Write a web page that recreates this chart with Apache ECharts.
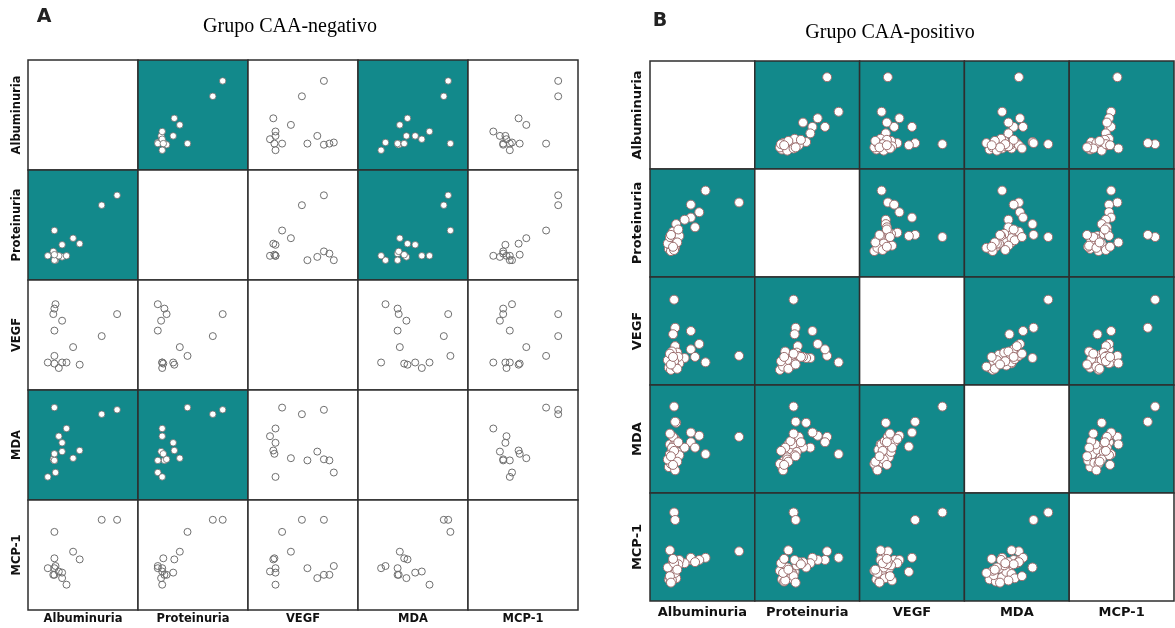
<!DOCTYPE html>
<html>
<head>
<meta charset="utf-8">
<script src="https://cdn.jsdelivr.net/npm/echarts@6/dist/echarts.min.js"></script>
<style>
  html, body { margin: 0; padding: 0; background: #ffffff; }
  #chart { width: 1175px; height: 628px; }
</style>
</head>
<body>
<div id="chart"></div>
<script>
// Variable names, in matrix order
const variables = ['Albuminuria', 'Proteinuria', 'VEGF', 'MDA', 'MCP-1'];

// Grupo CAA-negativo: one value per patient, relative units (0–100 of each axis range)
const negAlbuminuria = [81, 67, 24, 41, 47, 31, 25, 24, 23, 31, 24, 28, 35, 24, 18];
const negProteinuria = [77, 68, 45, 38, 33, 32, 18, 24, 26, 21, 18, 22, 22, 23, 22];
const negVEGF        = [69, 49, 31, 39, 23, 25, 78, 74, 69, 63, 54, 20, 25, 24, 25];
const negMDA         = [82, 78, 84, 38, 45, 52, 25, 36, 37, 44, 36, 58, 65, 42, 21];
const negMCP1        = [82, 82, 71, 53, 46, 34, 40, 32, 32, 29, 38, 35, 23, 47, 38];

// Grupo CAA-positivo: one value per patient, relative units
const posAlbuminuria = [85, 53, 39, 47, 39, 33, 25, 43, 23, 24, 19, 22, 24,
                        18, 20, 22, 19, 21, 24, 23, 26, 20, 25, 22, 28, 21, 17, 24, 27, 19, 23, 26, 20, 22];
const posProteinuria = [69, 80, 67, 60, 55, 53, 49, 46, 37, 39, 32, 38, 41,
                        26, 28, 30, 33, 35, 31, 36, 40, 24, 34, 42, 38, 29, 31, 27, 44, 37, 25, 32, 39, 28];
const posVEGF        = [27, 21, 33, 38, 50, 25, 25, 26, 79, 53, 20, 47, 36,
                        16, 19, 22, 25, 18, 28, 21, 30, 14, 24, 27, 20, 31, 23, 17, 26, 29, 22, 15, 19, 26];
const posMDA         = [52, 36, 47, 53, 56, 42, 65, 42, 80, 66, 45, 43, 50,
                        24, 30, 28, 36, 40, 33, 45, 38, 27, 48, 52, 35, 42, 31, 21, 47, 55, 39, 29, 34, 26];
const posMCP1        = [46, 40, 38, 38, 40, 35, 31, 36, 82, 75, 47, 27, 35,
                        20, 18, 24, 22, 27, 30, 25, 33, 28, 21, 36, 38, 19, 31, 26, 34, 23, 35, 29, 17, 39];

// Cells with a shaded background (row, column), symmetric
const negShaded = [[0, 1], [1, 0], [0, 3], [3, 0], [1, 3], [3, 1]];

const TEAL = '#12898b';
const LINE = '#2e2e2e';
const LABEL_FONT = 'bold 12px "DejaVu Sans", sans-serif';

const panels = [
  {
    letter: 'A', title: 'Grupo CAA-negativo',
    left: 28, top: 60, cellW: 110, cellH: 110,
    letterPos: [44, 17], titlePos: [290, 27],
    rowLabelX: 17, colLabelY: 619, font: 'bold 11.5px "DejaVu Sans", sans-serif',
    vars: [negAlbuminuria, negProteinuria, negVEGF, negMDA, negMCP1],
    shaded: (r, c) => negShaded.some(([a, b]) => a === r && b === c)
  },
  {
    letter: 'B', title: 'Grupo CAA-positivo',
    left: 650, top: 61, cellW: 104.8, cellH: 108,
    letterPos: [660, 21], titlePos: [890, 33],
    rowLabelX: 638, colLabelY: 613, font: 'bold 13px "DejaVu Sans", sans-serif',
    vars: [posAlbuminuria, posProteinuria, posVEGF, posMDA, posMCP1],
    shaded: (r, c) => r !== c
  }
];

const grid = [], xAxis = [], yAxis = [], series = [], graphic = [];

panels.forEach((p, pi) => {
  for (let r = 0; r < 5; r++) {
    for (let c = 0; c < 5; c++) {
      const k = grid.length;
      const teal = p.shaded(r, c);
      grid.push({
        left: p.left + c * p.cellW, top: p.top + r * p.cellH,
        width: p.cellW, height: p.cellH,
        show: true, backgroundColor: teal ? TEAL : '#ffffff',
        borderColor: LINE, borderWidth: 1.5, containLabel: false
      });
      xAxis.push({ type: 'value', gridIndex: k, min: 0, max: 100, show: false, splitLine: { show: false } });
      yAxis.push({ type: 'value', gridIndex: k, min: 0, max: 100, show: false, splitLine: { show: false } });
      if (r === c) continue;
      const xs = p.vars[c], ys = p.vars[r];
      const data = xs.map((v, i) => [v, ys[i]]);
      let style, size;
      if (pi === 1) {
        size = 9;
        style = { color: '#ffffff', borderColor: '#9c6e6e', borderWidth: 1, opacity: 1 };
      } else if (teal) {
        size = 6.5;
        style = { color: '#ffffff', borderColor: '#6a6a6a', borderWidth: 0.8, opacity: 1 };
      } else {
        size = 7;
        style = { color: 'rgba(255,255,255,0)', borderColor: '#6f6f6f', borderWidth: 1, opacity: 1 };
      }
      series.push({
        type: 'scatter', xAxisIndex: k, yAxisIndex: k, data,
        symbol: 'circle', symbolSize: size, itemStyle: style,
        silent: true, animation: false
      });
    }
  }
  // Row and column labels
  variables.forEach((name, i) => {
    graphic.push({
      type: 'text', x: p.rowLabelX, y: p.top + i * p.cellH + p.cellH / 2, rotation: Math.PI / 2,
      style: { text: name, font: p.font, fill: '#111', align: 'center', verticalAlign: 'middle' }
    });
    graphic.push({
      type: 'text', x: p.left + i * p.cellW + p.cellW / 2, y: p.colLabelY,
      style: { text: name, font: p.font, fill: '#111', align: 'center', verticalAlign: 'middle' }
    });
  });
  graphic.push({
    type: 'text', x: p.letterPos[0], y: p.letterPos[1],
    style: { text: p.letter, font: 'bold 19px "DejaVu Sans", sans-serif', fill: '#222', align: 'center', verticalAlign: 'middle' }
  });
  graphic.push({
    type: 'text', x: p.titlePos[0], y: p.titlePos[1],
    style: { text: p.title, font: '20px "Liberation Serif", serif', fill: '#000', align: 'center', verticalAlign: 'middle' }
  });
});

const chart = echarts.init(document.getElementById('chart'), null, { renderer: 'canvas' });
chart.setOption({
  animation: false,
  backgroundColor: '#ffffff',
  grid, xAxis, yAxis, series, graphic
});
</script>
</body>
</html>
